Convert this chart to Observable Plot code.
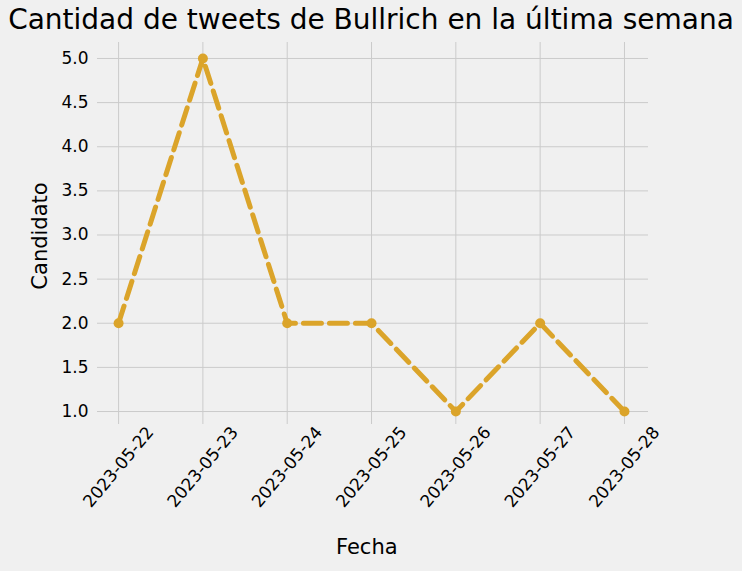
<!DOCTYPE html>
<html><head><meta charset="utf-8">
<script src="https://cdn.jsdelivr.net/npm/d3@7"></script>
<script src="https://cdn.jsdelivr.net/npm/@observablehq/plot@0.6"></script>
<style>
body{margin:0;background:#f0f0f0;font-family:"DejaVu Sans",sans-serif;}
#wrap{position:relative;width:742px;height:571px;}
.t{position:absolute;color:#000;white-space:nowrap;}
</style></head><body>
<div id="wrap">
<div class="t" style="left:0;width:742px;text-align:center;top:3px;font-size:28px;">Cantidad de tweets de Bullrich en la última semana</div>
<div class="t" style="left:336px;top:535px;font-size:21px;">Fecha</div>
<div class="t" style="left:40px;top:236px;font-size:21px;transform:translate(-50%,-50%) rotate(-90deg);">Candidato</div>
</div>
<script>
const fechas = ["2023-05-22","2023-05-23","2023-05-24","2023-05-25","2023-05-26","2023-05-27","2023-05-28"];
const tweets = [2,5,2,2,1,2,1];
const yTicks = [1.0,1.5,2.0,2.5,3.0,3.5,4.0,4.5,5.0];
const data = fechas.map((f,i)=>({i, f, v:tweets[i]}));
const chart = Plot.plot({
  width:742, height:571,
  marginTop:42, marginBottom:147, marginLeft:97, marginRight:94,
  style:{background:"transparent", fontSize:"17px", fontFamily:"DejaVu Sans, sans-serif", color:"#000"},
  x:{domain:[-0.25,6.285], axis:null},
  y:{domain:[0.853,5.181], ticks:yTicks, tickFormat:d=>d.toFixed(1), tickSize:0, tickPadding:9, label:null},
  marks:[
    Plot.gridX(fechas.map((_,i)=>i), {stroke:"#cbcbcb", strokeOpacity:1, strokeWidth:1}),
    Plot.gridY(yTicks, {stroke:"#cbcbcb", strokeOpacity:1, strokeWidth:1}),
    Plot.line(data, {x:"i", y:"v", stroke:"#dba42a", strokeWidth:5, strokeDasharray:"18,8"}),
    Plot.dot(data, {x:"i", y:"v", fill:"#dba42a", r:5}),
    Plot.text(data, {x:"i", y:()=>0.37, text:"f", rotate:-50, textAnchor:"middle", lineAnchor:"middle", fontSize:17, fill:"#000", clip:false})
  ]
});
chart.style.position="absolute"; chart.style.left="0"; chart.style.top="0";
document.getElementById("wrap").appendChild(chart);
</script>
</body></html>
